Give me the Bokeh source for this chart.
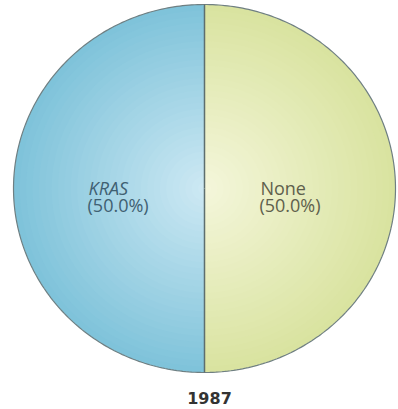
import numpy as np
from bokeh.plotting import figure
from bokeh.models import ColumnDataSource
from bokeh.core.properties import value
from bokeh.embed import file_html
from bokeh.resources import INLINE

# ---- data ----
labels = ["KRAS", "None"]
values = [50.0, 50.0]
year = "1987"

# ---- styling ----
W, H = 398, 409
cx, cy = 204, 409 - 188
rx, ry = 191, 184
edge_cols = [(0x7f, 0xc3, 0xda), (0xd9, 0xe3, 0xa0)]
center_cols = [(0xcc, 0xe8, 0xf3), (0xf4, 0xf6, 0xda)]
text_cols = ["#3f6072", "#5e604c"]
label_styles = ["italic" if l == "KRAS" else "normal" for l in labels]

p = figure(width=W, height=H, x_range=(0, W), y_range=(0, H),
           output_backend="svg", toolbar_location=None, min_border=0)
p.axis.visible = False
p.grid.visible = False
p.outline_line_color = None
p.background_fill_color = "white"
p.border_fill_color = "white"

vals = np.array(values, dtype=float)
fr = vals / vals.sum()
ends = np.pi / 2 + 2 * np.pi * np.cumsum(fr)
starts = np.concatenate([[np.pi / 2], ends[:-1]])

nlayers = 30
for i in range(len(vals)):
    t = np.linspace(starts[i], ends[i], 200)
    xs_l, ys_l, cols = [], [], []
    for k in range(nlayers):
        s = 1.0 - k / nlayers
        f = k / (nlayers - 1)
        c = tuple(int(round(edge_cols[i][j] + (center_cols[i][j] - edge_cols[i][j]) * f)) for j in range(3))
        xs_l.append(np.concatenate([[cx], cx + s * rx * np.cos(t)]).tolist())
        ys_l.append(np.concatenate([[cy], cy + s * ry * np.sin(t)]).tolist())
        cols.append("#%02x%02x%02x" % c)
    p.patches(xs_l, ys_l, fill_color=cols, line_color=None)

# outline
tt = np.linspace(0, 2 * np.pi, 400)
p.line(cx + rx * np.cos(tt), cy + ry * np.sin(tt), line_color="#6f7f82", line_width=1.2)
# slice borders
for a in starts:
    p.line([cx, cx + rx * np.cos(a)], [cy, cy + ry * np.sin(a)], line_color="#5d6e6e", line_width=1.5)

mids = (starts + ends) / 2
k = 0.45
lx = cx + k * rx * np.cos(mids)
ly = np.full(len(mids), float(cy))
src = ColumnDataSource(dict(x=lx, y=ly, name=labels,
                            pct=["(%.1f%%)" % (f * 100) for f in fr],
                            col=text_cols, sty=label_styles))
p.text(x="x", y="y", text="name", source=src, text_color="col",
       text_font=value("Open Sans"), text_font_size="18px", text_font_style="sty",
       text_align="left", text_baseline="alphabetic", x_offset=-30, y_offset=-1)
p.text(x="x", y="y", text="pct", source=src, text_color="col",
       text_font=value("Open Sans"), text_font_size="18px",
       text_align="left", text_baseline="alphabetic", x_offset=-31, y_offset=16)

p.text(x=[cx], y=[12], text=[year], text_color="#333333",
       text_font=value("DejaVu Sans"), text_font_style="bold", text_font_size="16px",
       text_align="center", text_baseline="middle", x_offset=5)

open("out.html", "w").write(file_html(p, INLINE))
